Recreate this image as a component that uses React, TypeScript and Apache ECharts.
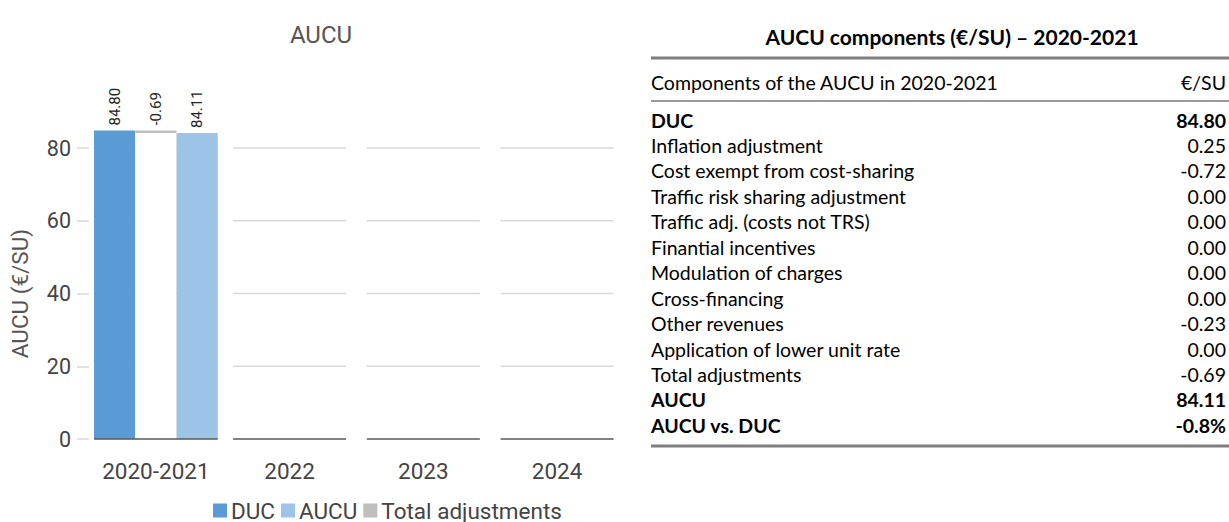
import React, { useEffect, useRef } from "react";
import * as echarts from "echarts";

const categories = ["2020-2021", "2022", "2023", "2024"];
const ducValues: (number | null)[] = [84.8, null, null, null];
const aucuValues: (number | null)[] = [84.11, null, null, null];
const totalAdjValues: (number | null)[] = [-0.69, null, null, null];
const yTicks = [20, 40, 60, 80];

const tableTitle = "AUCU components (€/SU) – 2020-2021";
const tableHeader = ["Components of the AUCU in 2020-2021", "€/SU"];
const componentNames = [
  "DUC",
  "Inflation adjustment",
  "Cost exempt from cost-sharing",
  "Traffic risk sharing adjustment",
  "Traffic adj. (costs not TRS)",
  "Finantial incentives",
  "Modulation of charges",
  "Cross-financing",
  "Other revenues",
  "Application of lower unit rate",
  "Total adjustments",
  "AUCU",
  "AUCU vs. DUC",
];
const componentValues = [
  "84.80", "0.25", "-0.72", "0.00", "0.00", "0.00", "0.00", "0.00", "-0.23", "0.00", "-0.69", "84.11", "-0.8%",
];
const boldRows = [0, 11, 12];

const CHART_FONT = "Roboto, 'Noto Sans', sans-serif";
const TABLE_FONT = "Lato, 'Open Sans', sans-serif";

export default function App() {
  const ref = useRef<HTMLDivElement>(null);
  useEffect(() => {
    if (!ref.current) return;
    const chart = echarts.init(ref.current, undefined, { renderer: "svg" });

    const adjBase = ducValues.map((d, i) => {
      const a = totalAdjValues[i];
      if (d == null || a == null) return null;
      return a < 0 ? d + a : d;
    });
    const adjSize = totalAdjValues.map((a) => (a == null ? null : Math.abs(a)));

    const GRID_SEG = 0.845;
    const BAR_GROUP = 0.925;
    const gridRender = (dark: boolean) => (params: any, api: any) => {
      const i = api.value(0);
      const c = api.coord([i, 0]);
      const bw = api.size([1, 0])[0];
      const hasBars = ducValues[i] != null || aucuValues[i] != null;
      const half = (bw * (hasBars ? BAR_GROUP : GRID_SEG)) / 2;
      const vals = dark ? [0] : yTicks;
      return {
        type: "group",
        children: vals.map((v) => {
          const y = api.coord([i, v])[1];
          return {
            type: "line",
            shape: { x1: c[0] - half, y1: y, x2: c[0] + half, y2: y },
            style: { stroke: dark ? "#595959" : "#d9d9d9", lineWidth: 1.5 },
          };
        }),
      };
    };

    const barLabel = (fmt: (i: number) => string) => ({
      show: true,
      position: "top",
      rotate: 90,
      align: "left",
      verticalAlign: "middle",
      distance: 5,
      fontFamily: CHART_FONT,
      fontSize: 15,
      color: "#222",
      formatter: (p: any) => fmt(p.dataIndex),
    });

    const TFS = 19.5;
    const graphics: any[] = [];
    graphics.push({
      type: "text",
      x: 952,
      y: 36,
      style: {
        text: tableTitle,
        font: `bold 21px ${TABLE_FONT}`,
        fill: "#000",
        align: "center",
        verticalAlign: "middle",
      },
    });
    graphics.push({
      type: "line",
      shape: { x1: 651, y1: 58, x2: 1229, y2: 58 },
      style: { stroke: "#7f7f7f", lineWidth: 3 },
    });
    graphics.push({
      type: "text",
      x: 651,
      y: 82,
      style: { text: tableHeader[0], font: `${TFS}px ${TABLE_FONT}`, fill: "#000", align: "left", verticalAlign: "middle" },
    });
    graphics.push({
      type: "text",
      x: 1226,
      y: 82,
      style: { text: tableHeader[1], font: `${TFS}px ${TABLE_FONT}`, fill: "#000", align: "right", verticalAlign: "middle" },
    });
    graphics.push({
      type: "line",
      shape: { x1: 651, y1: 101, x2: 1229, y2: 101 },
      style: { stroke: "#999999", lineWidth: 2 },
    });
    componentNames.forEach((name, k) => {
      const y = 120 + k * 25.45;
      const bold = boldRows.indexOf(k) >= 0;
      const font = `${bold ? "bold " : ""}${TFS}px ${TABLE_FONT}`;
      graphics.push({
        type: "text",
        x: 651,
        y,
        style: { text: name, font, fill: "#000", align: "left", verticalAlign: "middle" },
      });
      graphics.push({
        type: "text",
        x: 1226,
        y,
        style: { text: componentValues[k], font, fill: "#000", align: "right", verticalAlign: "middle" },
      });
    });
    graphics.push({
      type: "line",
      shape: { x1: 651, y1: 446, x2: 1229, y2: 446 },
      style: { stroke: "#7f7f7f", lineWidth: 3 },
    });

    chart.setOption({
      animation: false,
      title: {
        text: "AUCU",
        left: 316,
        top: 18,
        textAlign: "center",
        textStyle: { fontFamily: CHART_FONT, fontSize: 24, fontWeight: "normal", color: "#555" },
      },
      grid: { left: 89, right: 605, top: 148, bottom: 83, containLabel: false },
      legend: {
        data: ["DUC", "AUCU", "Total adjustments"],
        left: 213,
        top: 499,
        itemGap: 6,
        itemWidth: 14,
        itemHeight: 14,
        padding: 0,
        icon: "rect",
        textStyle: { fontFamily: CHART_FONT, fontSize: 22.5, color: "#444", padding: [0, 0, 0, -1] },
      },
      xAxis: {
        type: "category",
        data: categories,
        axisLine: { show: false },
        axisTick: { show: false },
        splitLine: { show: false },
        axisLabel: { fontFamily: CHART_FONT, fontSize: 22.5, color: "#444", margin: 20, interval: 0 },
      },
      yAxis: {
        type: "value",
        min: 0,
        max: 80,
        interval: 20,
        name: "AUCU (€/SU)",
        nameLocation: "middle",
        nameGap: 58,
        nameTextStyle: { fontFamily: CHART_FONT, fontSize: 22.5, color: "#555" },
        axisLine: { show: false },
        axisTick: { show: true, length: 12, lineStyle: { color: "#d9d9d9", width: 1.5 } },
        splitLine: { show: false },
        axisLabel: { fontFamily: CHART_FONT, fontSize: 21.5, color: "#444", margin: 18 },
      },
      series: [
        {
          type: "custom",
          name: "grid",
          z: 1,
          silent: true,
          renderItem: gridRender(false),
          data: categories.map((_, i) => [i]),
        },
        {
          type: "bar",
          name: "DUC",
          data: ducValues,
          barGap: "0%",
          barCategoryGap: "7.5%",
          clip: false,
          z: 2,
          itemStyle: { color: "#5B9BD5" },
          label: barLabel((i) => (ducValues[i] == null ? "" : (ducValues[i] as number).toFixed(2))),
        },
        {
          type: "bar",
          name: "adjBase",
          stack: "adj",
          data: adjBase,
          clip: false,
          z: 2,
          itemStyle: { color: "#ffffff" },
          silent: true,
        },
        {
          type: "bar",
          name: "Total adjustments",
          stack: "adj",
          data: adjSize,
          clip: false,
          z: 2,
          itemStyle: { color: "#BFBFBF" },
          label: barLabel((i) => (totalAdjValues[i] == null ? "" : (totalAdjValues[i] as number).toFixed(2))),
        },
        {
          type: "bar",
          name: "AUCU",
          data: aucuValues,
          clip: false,
          z: 2,
          itemStyle: { color: "#9DC3E6" },
          label: barLabel((i) => (aucuValues[i] == null ? "" : (aucuValues[i] as number).toFixed(2))),
        },
        {
          type: "custom",
          name: "baseline",
          z: 5,
          silent: true,
          renderItem: gridRender(true),
          data: categories.map((_, i) => [i]),
        },
      ],
      graphic: graphics,
    });
    return () => chart.dispose();
  }, []);
  return (
    <div
      ref={ref}
      style={{ position: "fixed", left: 0, top: 0, width: 1229, height: 522, background: "#fff" }}
    />
  );
}
